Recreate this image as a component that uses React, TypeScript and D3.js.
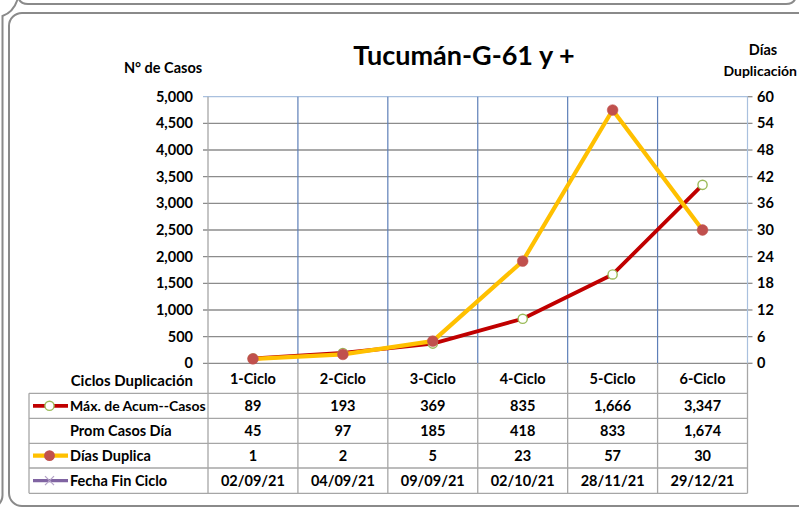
import React from "react";
import * as d3 from "d3";

const categories = ["1-Ciclo", "2-Ciclo", "3-Ciclo", "4-Ciclo", "5-Ciclo", "6-Ciclo"];
const maxAcumCasos = [89, 193, 369, 835, 1666, 3347];
const promCasosDia = [45, 97, 185, 418, 833, 1674];
const diasDuplica = [1, 2, 5, 23, 57, 30];
const fechaFinCiclo = ["02/09/21", "04/09/21", "09/09/21", "02/10/21", "28/11/21", "29/12/21"];
const leftTicks = [0, 500, 1000, 1500, 2000, 2500, 3000, 3500, 4000, 4500, 5000];
const rightTicks = [0, 6, 12, 18, 24, 30, 36, 42, 48, 54, 60];

const W = 799;
const H = 508;
const L = 208;
const R = 747.5;
const T = 96.7;
const B = 363.3;
const tableLeft = 29;
const rowLines = [393.3, 418.3, 443.3, 468, 493.3];
const FONT = "Lato, 'Open Sans', sans-serif";

const fmt = d3.format(",");

export default function App() {
  const x = d3.scaleBand<string>().domain(categories).range([L, R]);
  const cx = (c: string) => (x(c) as number) + x.bandwidth() / 2;
  const yL = d3.scaleLinear().domain([0, 5000]).range([B, T]);
  const yR = d3.scaleLinear().domain([0, 60]).range([B, T]);

  const redLine = d3
    .line<number>()
    .x((_, i) => cx(categories[i]))
    .y((d) => yL(d))(maxAcumCasos) as string;
  const yelLine = d3
    .line<number>()
    .x((_, i) => cx(categories[i]))
    .y((d) => yR(d))(diasDuplica) as string;

  const colEdges = [L, ...categories.map((c) => (x(c) as number) + x.bandwidth())];

  const rows: { label: string; values: string[]; legend?: string }[] = [
    { label: "Máx. de Acum--Casos", values: maxAcumCasos.map((v) => fmt(v)), legend: "red" },
    { label: "Prom Casos Día", values: promCasosDia.map((v) => fmt(v)) },
    { label: "Días Duplica", values: diasDuplica.map((v) => fmt(v)), legend: "yellow" },
    { label: "Fecha Fin Ciclo", values: fechaFinCiclo, legend: "purple" },
  ];

  const textStyle = { fontFamily: FONT, fontWeight: 700, fill: "#000" } as const;

  return (
    <svg
      width={W}
      height={H}
      style={{ position: "absolute", left: 0, top: 0, background: "#fff" }}
    >
      {/* frames */}
      <path
        d="M 18 -10 L 18 -6 Q 18 4 28 4 L 786 4 Q 796 4 796 -6"
        fill="none"
        stroke="#8a8a8a"
        strokeWidth={2}
      />
      <path d="M 18 -2 Q 14 12 2.5 16 L 2.5 494 Q 3 503 -6 508" fill="none" stroke="#8a8a8a" strokeWidth={2} />
      <rect x={9} y={13} width={830} height={493} rx={13} ry={13} fill="#fff" stroke="#8a8a8a" strokeWidth={2} />

      {/* horizontal gridlines */}
      {leftTicks.map((t) => (
        <line
          key={"g" + t}
          x1={L - 5}
          x2={R}
          y1={yL(t)}
          y2={yL(t)}
          stroke={t === 5000 ? "#a9c0de" : "#8c8c8c"}
          strokeWidth={1.3}
        />
      ))}
      {/* right ticks */}
      {rightTicks.map((t) => (
        <line key={"rt" + t} x1={R} x2={R + 5} y1={yR(t)} y2={yR(t)} stroke="#8c8c8c" strokeWidth={1.3} />
      ))}
      {/* vertical gridlines in plot */}
      {colEdges.slice(1).map((e, i) => (
        <line
          key={"v" + i}
          x1={e}
          x2={e}
          y1={T}
          y2={B}
          stroke={i === categories.length - 1 ? "#a9c0de" : "#5d7fb8"}
          strokeWidth={1.2}
        />
      ))}
      {/* left axis line */}
      <line x1={L} x2={L} y1={T} y2={B} stroke="#a6a6a6" strokeWidth={1.3} />

      {/* table */}
      {colEdges.map((e, i) => (
        <line key={"tv" + i} x1={e} x2={e} y1={B} y2={rowLines[4]} stroke="#a6a6a6" strokeWidth={1.3} />
      ))}
      <line x1={tableLeft} x2={tableLeft} y1={rowLines[0]} y2={rowLines[4]} stroke="#a6a6a6" strokeWidth={1.3} />
      {rowLines.map((r, i) => (
        <line key={"th" + i} x1={tableLeft} x2={R} y1={r} y2={r} stroke="#a6a6a6" strokeWidth={1.3} />
      ))}

      {/* series */}
      <path d={redLine} fill="none" stroke="#c00000" strokeWidth={3.8} strokeLinejoin="round" />
      {maxAcumCasos.map((v, i) => (
        <circle key={"rm" + i} cx={cx(categories[i])} cy={yL(v)} r={4.6} fill="#fff" stroke="#9bbb59" strokeWidth={1.4} />
      ))}
      <path d={yelLine} fill="none" stroke="#ffc000" strokeWidth={4.2} strokeLinejoin="round" />
      {diasDuplica.map((v, i) => (
        <circle key={"ym" + i} cx={cx(categories[i])} cy={yR(v)} r={5.4} fill="#c0504d" stroke="#c0504d" strokeWidth={0.5} />
      ))}

      {/* left tick labels */}
      {leftTicks.map((t) => (
        <text key={"lt" + t} x={193} y={yL(t)} dy="0.35em" textAnchor="end" fontSize={14.5} style={textStyle}>
          {fmt(t)}
        </text>
      ))}
      {/* right tick labels */}
      {rightTicks.map((t) => (
        <text key={"rl" + t} x={757} y={yR(t)} dy="0.35em" textAnchor="start" fontSize={14.5} style={textStyle}>
          {t}
        </text>
      ))}

      {/* titles */}
      <text x={464} y={65} textAnchor="middle" fontSize={27} style={textStyle}>
        Tucumán-G-61 y +
      </text>
      <text x={163} y={68} dy="0.35em" textAnchor="middle" fontSize={14.5} style={textStyle}>
        N° de Casos
      </text>
      <text x={763} y={50} dy="0.35em" textAnchor="middle" fontSize={14.5} style={textStyle}>
        Días
      </text>
      <text x={797} y={71} dy="0.35em" textAnchor="end" fontSize={14} style={textStyle}>
        Duplicación
      </text>

      {/* category row */}
      <text x={193} y={381} dy="0.35em" textAnchor="end" fontSize={15} style={textStyle}>
        Ciclos Duplicación
      </text>
      {categories.map((c) => (
        <text key={"c" + c} x={cx(c)} y={378.5} dy="0.35em" textAnchor="middle" fontSize={14.5} style={textStyle}>
          {c}
        </text>
      ))}

      {/* data rows */}
      {rows.map((row, ri) => {
        const yc = (rowLines[ri] + rowLines[ri + 1]) / 2;
        return (
          <g key={"row" + ri}>
            {row.legend === "red" && (
              <g>
                <line x1={33} x2={68} y1={yc} y2={yc} stroke="#c00000" strokeWidth={3.8} />
                <circle cx={49.5} cy={yc} r={4.6} fill="#fff" stroke="#9bbb59" strokeWidth={1.4} />
              </g>
            )}
            {row.legend === "yellow" && (
              <g>
                <line x1={33} x2={68} y1={yc} y2={yc} stroke="#ffc000" strokeWidth={4.2} />
                <circle cx={49.5} cy={yc} r={5.4} fill="#c0504d" />
              </g>
            )}
            {row.legend === "purple" && (
              <g>
                <line x1={33} x2={68} y1={yc} y2={yc} stroke="#8064a2" strokeWidth={3.2} />
                <line x1={45} x2={54} y1={yc - 4.5} y2={yc + 4.5} stroke="#b3a2c7" strokeWidth={1.2} />
                <line x1={45} x2={54} y1={yc + 4.5} y2={yc - 4.5} stroke="#b3a2c7" strokeWidth={1.2} />
              </g>
            )}
            <text x={70} y={yc} dy="0.35em" textAnchor="start" fontSize={row.legend === "red" ? 14 : 14.5} style={textStyle}>
              {row.label}
            </text>
            {row.values.map((v, i) => (
              <text key={"v" + i} x={cx(categories[i])} y={yc} dy="0.35em" textAnchor="middle" fontSize={14.5} style={textStyle}>
                {v}
              </text>
            ))}
          </g>
        );
      })}
    </svg>
  );
}
